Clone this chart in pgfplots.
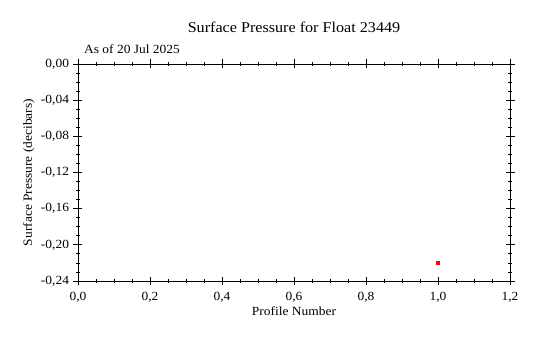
\documentclass[border=0pt]{standalone}
\usepackage{fontspec}
\setmainfont{Liberation Serif}[FakeStretch=1.08]
\usepackage{pgfplots}
\pgfplotsset{compat=1.18}
\begin{document}
\begin{tikzpicture}
\begin{axis}[
  name=ax,
  scale only axis,
  width=432bp, height=217bp,
  xmin=0, xmax=1.2, ymin=-0.24, ymax=0,
  xtick={0,0.2,...,1.2}, ytick={-0.24,-0.20,...,0.001},
  minor x tick num=3, minor y tick num=3,
  tick align=center,
  major tick length=9bp, minor tick length=4bp,
  tick style={black, line width=0.8pt},
  axis line style={line width=0.9pt},
  every tick label/.style={font=\fontsize{12.5}{14}\selectfont},
  /pgf/number format/assume math mode=true,
  /pgf/number format/use comma,
  xticklabel style={anchor=base, yshift=-15bp, /pgf/number format/fixed, /pgf/number format/fixed zerofill, /pgf/number format/precision=1},
  yticklabel style={xshift=-1bp, /pgf/number format/fixed, /pgf/number format/fixed zerofill, /pgf/number format/precision=2},
  scaled ticks=false,
  clip=false,
]
\addplot[only marks, mark=square*, mark size=1.6bp, color=red, mark options={draw=red, fill=red}] coordinates {(1.0,-0.22)};
\node[anchor=base, font=\fontsize{15}{17}\selectfont, inner sep=0pt] at (axis description cs:0.5,1) [yshift=31bp] {Surface Pressure for Float 23449};
\node[anchor=base west, font=\fontsize{12.5}{14}\selectfont, inner sep=0pt] at (axis description cs:0,1) [xshift=6bp, yshift=11bp] {As of 20 Jul 2025};
\node[anchor=base, font=\fontsize{12.5}{14}\selectfont, inner sep=0pt] at (axis description cs:0.5,0) [yshift=-34bp] {Profile Number};
\node[anchor=base, font=\fontsize{12.5}{14}\selectfont, inner sep=0pt, xshift=-46bp, rotate=90] at (axis description cs:0,0.5) {Surface Pressure (decibars)};
\end{axis}
\path (ax.south west) ++(-78bp,-57bp) rectangle ++(534bp,338bp);
\end{tikzpicture}
\end{document}
